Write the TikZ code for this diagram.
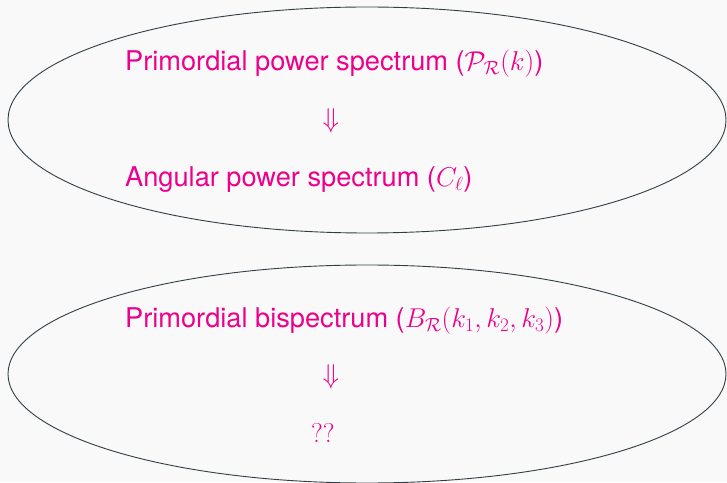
\RequirePackage{fix-cm}
\documentclass[tikz,border=0pt]{standalone}
\usepackage{fontspec}
\setmainfont{TeX Gyre Heros}
\definecolor{pinkmag}{RGB}{236,0,140}
\definecolor{rimgray}{RGB}{50,62,68}
\definecolor{slidebg}{RGB}{249,249,249}
\begin{document}
\begin{tikzpicture}[x=1pt,y=1pt,every node/.style={font=\fontsize{27.2}{32}\selectfont,text=pinkmag,inner sep=0pt},
  bubble/.style={draw=rimgray,line width=0.9pt}]
\fill[slidebg] (0,0) rectangle (727,482);
\useasboundingbox (0,0) rectangle (727,482);
\begin{scope}
\clip (0,0) rectangle (727,482);
% power spectrum bubble
\coordinate (top) at (367,362);
\draw[bubble] (top) ellipse [x radius=359,y radius=113];
\node[anchor=base west] (pps) at (125,411.3) {Primordial power spectrum ($\mathcal{P}_{\mathcal{R}}(k)$)};
\node (arrA) at (331,361) {$\Downarrow$};
\node[anchor=base west] (aps) at (125,295.3) {Angular power spectrum ($C_\ell$)};
% bispectrum bubble
\coordinate (bot) at (367,108);
\draw[bubble] (bot) ellipse [x radius=359,y radius=109];
\node[anchor=base west] (pbs) at (125,155) {Primordial bispectrum ($B_{\mathcal{R}}(k_1,k_2,k_3)$)};
\node (arrB) at (331,105.5) {$\Downarrow$};
\node[anchor=base west] (unk) at (311,40) {$??$};
\end{scope}
\end{tikzpicture}
\end{document}
